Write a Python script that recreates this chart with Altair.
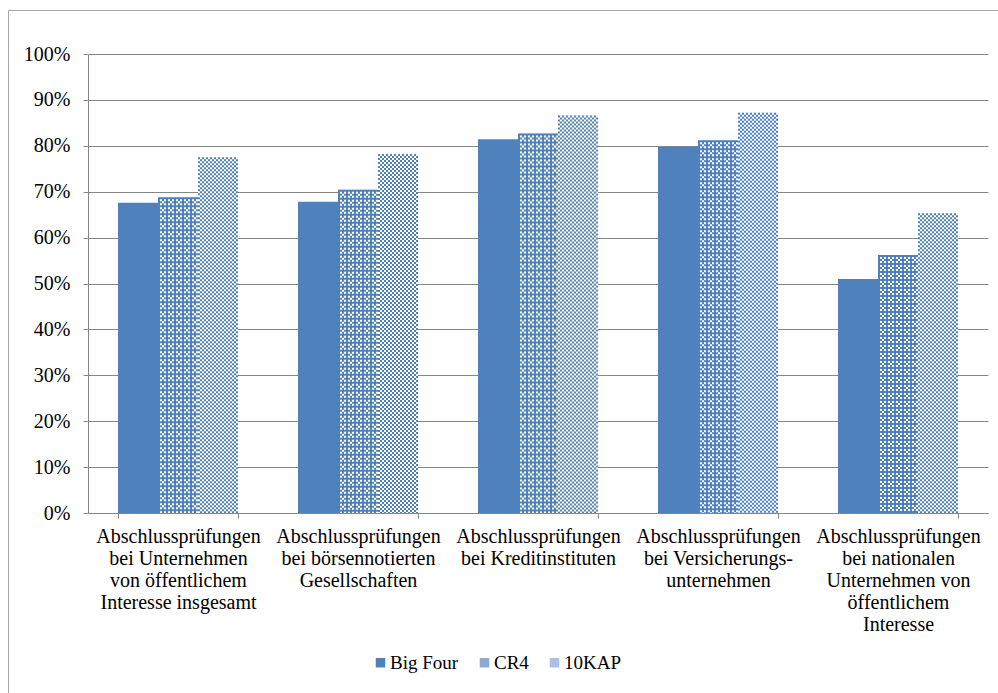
import altair as alt
import pandas as pd

# ---- data -------------------------------------------------------------
categories = [
    "Abschlussprüfungen|bei Unternehmen|von öffentlichem|Interesse insgesamt",
    "Abschlussprüfungen|bei börsennotierten|Gesellschaften",
    "Abschlussprüfungen|bei Kreditinstituten",
    "Abschlussprüfungen|bei Versicherungs-|unternehmen",
    "Abschlussprüfungen|bei nationalen|Unternehmen von|öffentlichem|Interesse",
]
series = ["Big Four", "CR4", "10KAP"]
big_four = [0.676, 0.678, 0.814, 0.798, 0.510]
cr4 = [0.688, 0.704, 0.827, 0.812, 0.562]
kap10 = [0.775, 0.782, 0.866, 0.872, 0.653]
y_ticks = [0.0, 0.1, 0.2, 0.3, 0.4, 0.5, 0.6, 0.7, 0.8, 0.9, 1.0]

BLUE = "#4f81bd"
GREY = "#868686"
FONT = "'Liberation Serif', 'Times New Roman', Times, serif"

# long table of bar values
rows = []
for name, vals in zip(series, [big_four, cr4, kap10]):
    for cat, v in zip(categories, vals):
        rows.append({"category": cat, "series": name, "value": v})
bars = pd.DataFrame(rows)

# hatch columns for the patterned series: each bar is filled with 20
# dashed 2px columns that together form a checker / plaid texture
N_COLS = 20
pattern_of = {
    "CR4": ["solid", "chkA", "plaid", "chkA"],
    "10KAP": ["chkA", "chkB"],
}
hatch_rows = []
for r in rows:
    if r["series"] not in pattern_of:
        continue
    s_idx = series.index(r["series"])
    cycle = pattern_of[r["series"]]
    for c in range(N_COLS):
        hatch_rows.append({
            "category": r["category"],
            "value": r["value"],
            "sub": s_idx * N_COLS + c,
            "dash": cycle[c % len(cycle)],
        })
hatch = pd.DataFrame(hatch_rows)

dash_names = ["chkA", "chkB", "solid", "plaid"]
dash_arrays = [[2, 2], [0, 2, 2, 0], [8, 0], [4, 2, 2, 0]]

# ---- encodings ----------------------------------------------------------
x_enc = alt.X(
    "category:N",
    sort=categories,
    scale=alt.Scale(paddingInner=1 / 3, paddingOuter=1 / 6),
    axis=alt.Axis(
        title=None,
        labelAngle=0,
        labelExpr="split(datum.label, '|')",
        labelFont=FONT,
        labelFontSize=20,
        labelLineHeight=22,
        labelColor="black",
        labelPadding=8,
        labelLimit=400,
        labelOverlap=False,
        tickBand="extent",
        tickSize=5,
        tickColor=GREY,
        domainColor=GREY,
        grid=False,
    ),
)
y_enc = alt.Y(
    "value:Q",
    scale=alt.Scale(domain=[0, 1], nice=False),
    axis=alt.Axis(
        title=None,
        values=y_ticks,
        format=".0%",
        labelFont=FONT,
        labelFontSize=20,
        labelColor="black",
        labelPadding=13,
        tickSize=5,
        tickColor=GREY,
        domainColor=GREY,
        grid=True,
        gridColor=GREY,
        gridWidth=1,
    ),
)
offset_series = alt.XOffset(
    "series:N",
    sort=series,
    scale=alt.Scale(domain=series, paddingInner=0, paddingOuter=0),
)

# ---- layers -------------------------------------------------------------
solid_bars = alt.Chart(bars).mark_bar().encode(
    x=x_enc,
    y=y_enc,
    xOffset=offset_series,
    color=alt.Color(
        "series:N",
        sort=series,
        scale=alt.Scale(domain=series, range=[BLUE, "#8aa9d4", "#a9c1e2"]),
        legend=alt.Legend(
            title=None,
            orient="none",
            direction="horizontal",
            legendX=283,
            legendY=599,
            symbolType="square",
            symbolSize=90,
            symbolStrokeWidth=0,
            labelFont=FONT,
            labelFontSize=19,
            labelColor="black",
            labelOffset=0,
            columnPadding=16,
        ),
    ),
)

white_bars = (
    alt.Chart(bars)
    .transform_filter(alt.datum.series != "Big Four")
    .mark_bar(color="white")
    .encode(x=x_enc, y=y_enc, xOffset=offset_series)
)

hatch_rules = alt.Chart(hatch).mark_rule(strokeWidth=2, color=BLUE).encode(
    x=x_enc,
    y=y_enc,
    y2=alt.datum(0),
    xOffset=alt.XOffset(
        "sub:O",
        scale=alt.Scale(
            domain=list(range(len(series) * N_COLS)),
            paddingInner=0,
            paddingOuter=0,
        ),
    ),
    strokeDash=alt.StrokeDash(
        "dash:N",
        scale=alt.Scale(domain=dash_names, range=dash_arrays),
        legend=None,
    ),
)

# thin frame around the whole chart area
frame = alt.Chart(pd.DataFrame({"f": [0]})).mark_rect(
    fillOpacity=0, stroke="#a6a6a6", strokeWidth=1
).encode(
    x=alt.value(-79.5),
    x2=alt.value(960),
    y=alt.value(-43.5),
    y2=alt.value(700),
)

chart = (
    alt.layer(frame, solid_bars, white_bars, hatch_rules)
    .resolve_scale(xOffset="independent")
    .properties(
        width=900,
        height=459,
        autosize=alt.AutoSizeParams(type="none"),
        padding={"left": 88, "top": 54, "right": 10, "bottom": 180},
        background="white",
    )
    .configure_view(stroke="transparent")
)

chart.save("out.html", embed_options={"renderer": "svg", "actions": False})
